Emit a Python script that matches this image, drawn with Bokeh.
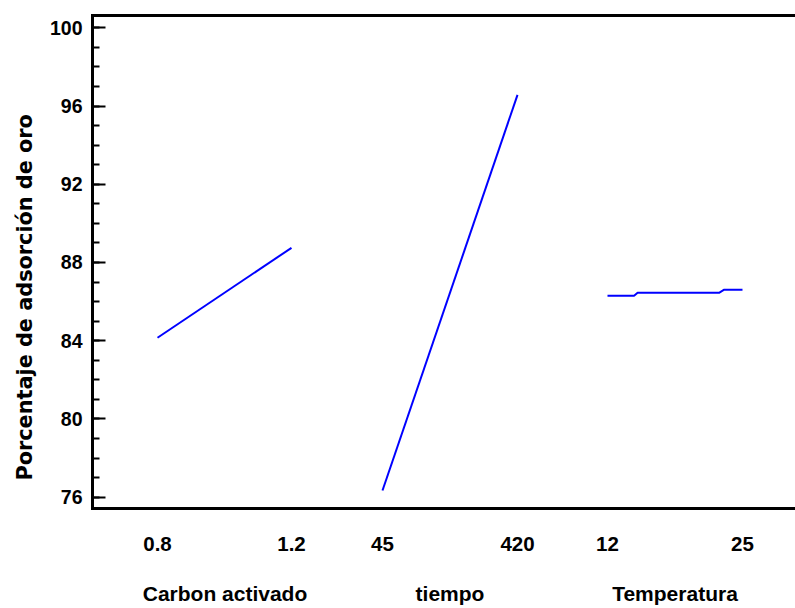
from bokeh.plotting import figure
from bokeh.layouts import gridplot
from bokeh.models import Range1d, FixedTicker, LinearAxis, Title
from bokeh.embed import file_html
from bokeh.resources import INLINE

# ---- data ----
carbon_x = [0.8, 1.2]
carbon_y = [84.15, 88.75]
tiempo_x = [45, 420]
tiempo_y = [76.34, 96.57]
temp_x = [12, 14.56, 14.9, 22.74, 23.2, 25]
temp_y = [86.30, 86.30, 86.45, 86.45, 86.60, 86.60]

carbon_ticks = [0.8, 1.2]
tiempo_ticks = [45, 420]
temp_ticks = [12, 25]
y_major = [76, 80, 84, 88, 92, 96, 100]
y_minor = list(range(75, 101))

factor_names = ["Carbon activado", "tiempo", "Temperatura"]
y_title = "Porcentaje de adsorción de oro"

FONT = "Liberation Sans"
BLUE = "#0000FF"

y_range = Range1d(75.42, 100.63)


def make_fig(width, xr, ticks, name, mb_left, side):
    p = figure(width=width, height=608, x_range=xr, y_range=y_range,
               toolbar_location=None, output_backend="svg",
               min_border_left=mb_left, min_border_right=0,
               min_border_top=15, min_border_bottom=100,
               y_axis_location=side, x_axis_location="below",
               outline_line_color=None, background_fill_color="white",
               border_fill_color="white")
    p.grid.visible = False
    xa = p.xaxis[0]
    xa.ticker = FixedTicker(ticks=ticks)
    xa.axis_line_width = 3
    xa.axis_line_color = "black"
    xa.axis_line_cap = "square"
    xa.major_tick_in = 0
    xa.major_tick_out = 0
    xa.minor_tick_in = 0
    xa.minor_tick_out = 0
    xa.major_label_text_font = FONT
    xa.major_label_text_font_style = "bold"
    xa.major_label_text_font_size = "20.5px"
    xa.major_label_text_color = "black"
    xa.major_label_standoff = 28
    if name:
        xa.axis_label = name
        xa.axis_label_text_font = FONT
        xa.axis_label_text_font_style = "bold"
        xa.axis_label_text_font_size = "21px"
        xa.axis_label_text_color = "black"
        xa.axis_label_standoff = 28

    top = LinearAxis(ticker=FixedTicker(ticks=[]), axis_line_width=3,
                     axis_line_color="black", axis_line_cap="square",
                     major_tick_in=0, major_tick_out=0,
                     minor_tick_in=0, minor_tick_out=0)
    p.add_layout(top, "above")
    return p


# frame edges: 91 | 112 | 337 | 562 | 787 | 795
p0 = make_fig(112, Range1d(0.60299, 0.66567), [], None, 91, "left")
p1 = make_fig(225, Range1d(0.66567, 1.33731), carbon_ticks, factor_names[0], 0, None)
p2 = make_fig(225, Range1d(-80, 545), tiempo_ticks, factor_names[1], 0, None)
p3 = make_fig(225, Range1d(7.667, 29.334), temp_ticks, factor_names[2], 0, None)
p4 = make_fig(8, Range1d(29.334, 30.104), [], None, 0, None)

ya = p0.yaxis[0]
ya.ticker = FixedTicker(ticks=y_major, minor_ticks=y_minor)
ya.axis_line_width = 3
ya.axis_line_color = "black"
ya.axis_line_cap = "square"
ya.major_tick_in = 13
ya.major_tick_out = 0
ya.minor_tick_in = 7
ya.minor_tick_out = 0
ya.major_tick_line_width = 2
ya.minor_tick_line_width = 2
ya.major_tick_line_color = "black"
ya.minor_tick_line_color = "black"
ya.major_label_text_font = FONT
ya.major_label_text_font_style = "bold"
ya.major_label_text_font_size = "19.5px"
ya.major_label_text_color = "black"
ya.major_label_standoff = 10

p0.add_layout(Title(text=y_title, align="left", offset=28, standoff=20,
                    text_font="DejaVu Sans", text_font_style="bold",
                    text_font_size="20.8px", text_color="black"), "left")

p1.line(carbon_x, carbon_y, line_color=BLUE, line_width=2)
p2.line(tiempo_x, tiempo_y, line_color=BLUE, line_width=2)
p3.line(temp_x, temp_y, line_color=BLUE, line_width=2)

grid = gridplot([[p0, p1, p2, p3, p4]], toolbar_location=None)

open("out.html", "w").write(file_html(grid, INLINE))
